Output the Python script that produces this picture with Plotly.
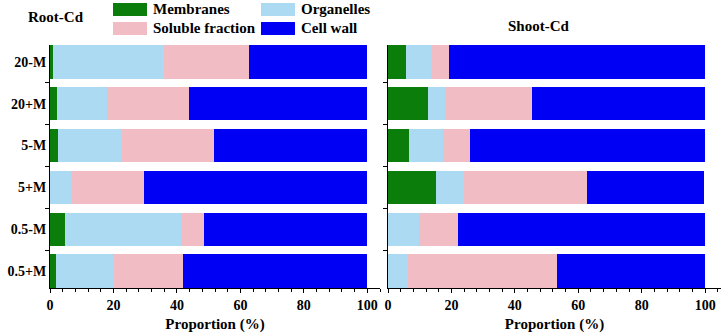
import plotly.graph_objects as go

categories = ["0.5+M", "0.5-M", "5+M", "5-M", "20+M", "20-M"]
series_names = ["Membranes", "Organelles", "Soluble fraction", "Cell wall"]
colors = ["#0a7d0a", "#acdaf2", "#f2bcc4", "#0000f5"]

# Root-Cd (%), order as categories
root_membranes = [1.9, 4.8, 0.0, 2.4, 2.1, 1.1]
root_organelles = [18.1, 36.5, 6.6, 19.9, 16.0, 34.7]
root_soluble = [21.9, 7.1, 23.1, 29.3, 25.6, 27.0]
root_cellwall = [58.1, 51.6, 70.3, 48.4, 56.3, 37.2]

# Shoot-Cd (%)
shoot_membranes = [0.0, 0.0, 15.2, 6.5, 12.7, 5.8]
shoot_organelles = [6.3, 9.7, 8.9, 10.7, 5.4, 7.7]
shoot_soluble = [47.0, 12.4, 38.5, 8.8, 27.2, 5.7]
shoot_cellwall = [46.7, 77.9, 37.1, 74.0, 54.7, 80.8]

root = [root_membranes, root_organelles, root_soluble, root_cellwall]
shoot = [shoot_membranes, shoot_organelles, shoot_soluble, shoot_cellwall]

FONT = "Liberation Serif"
ypos = list(range(len(categories)))

fig = go.Figure()
for name, col, vals in zip(series_names, colors, root):
    fig.add_trace(go.Bar(y=ypos, x=vals, orientation="h", name=name,
                         marker=dict(color=col, line=dict(width=0)), width=0.8,
                         xaxis="x", yaxis="y", showlegend=False))
for name, col, vals in zip(series_names, colors, shoot):
    fig.add_trace(go.Bar(y=ypos, x=vals, orientation="h", name=name,
                         marker=dict(color=col, line=dict(width=0)), width=0.8,
                         xaxis="x2", yaxis="y2", showlegend=False))

W, H = 725, 334
ml, mr, mt, mb = 50, 4, 45, 46
pw = W - ml - mr
ph = H - mt - mb

def px_x(p):
    return (p - ml) / pw

def px_y(p):
    return (H - mb - p) / ph

tickfont = dict(family=FONT, size=14, color="black", weight="bold")
xcommon = dict(showline=True, linecolor="black", linewidth=1, ticks="outside",
               ticklen=4, tickcolor="black", tickmode="array",
               tickvals=[0, 20, 40, 60, 80, 100], tickfont=tickfont,
               minor=dict(ticks="outside", ticklen=3, tickcolor="black",
                          tickmode="linear", tick0=0, dtick=4),
               showgrid=False, zeroline=False, automargin=False,
               title=dict(text="Proportion (%)", font=dict(family=FONT, size=15, color="black", weight="bold"),
                          standoff=6))
ycommon = dict(showline=True, linecolor="black", linewidth=1, range=[-0.4, 5.4],
               tickmode="array", tickvals=ypos, ticks="",
               minor=dict(ticks="outside", ticklen=4, tickcolor="black",
                          tickmode="linear", tick0=0.5, dtick=1),
               showgrid=False, zeroline=False, automargin=False)

fig.update_layout(
    width=W, height=H, margin=dict(l=ml, r=mr, t=mt, b=mb),
    paper_bgcolor="white", plot_bgcolor="white", barmode="stack", bargap=0.2,
    xaxis=dict(domain=[0, px_x(380)], range=[0, 104], anchor="y", **xcommon),
    xaxis2=dict(domain=[px_x(388), 1], range=[0, 105], anchor="y2", **xcommon),
    yaxis=dict(domain=[0, 1], anchor="x", ticktext=categories, tickfont=tickfont, **ycommon),
    yaxis2=dict(domain=[0, 1], anchor="x2", showticklabels=False, **ycommon),
    showlegend=False,
)

annotations = [
    dict(text="Root-Cd", x=px_x(56), y=px_y(17)),
    dict(text="Shoot-Cd", x=px_x(539), y=px_y(26)),
]
for a in annotations:
    a.update(xref="paper", yref="paper", showarrow=False, xanchor="center", yanchor="middle",
             font=dict(family=FONT, size=15, color="black", weight="bold"))

# legend swatches (2x2 grid)
legend_layout = [(113, 3), (261, 3), (113, 22), (261, 22)]
shapes = []
for (bx, by), idx in zip(legend_layout, range(4)):
    shapes.append(dict(type="rect", xref="paper", yref="paper",
                       x0=px_x(bx), x1=px_x(bx + 34), y0=px_y(by), y1=px_y(by + 13),
                       fillcolor=colors[idx], line=dict(width=0)))
    annotations.append(dict(text=series_names[idx], xref="paper", yref="paper",
                            x=px_x(bx + 38), y=px_y(by + 6.5), showarrow=False,
                            xanchor="left", yanchor="middle",
                            font=dict(family=FONT, size=15, color="black", weight="bold")))

fig.update_layout(annotations=annotations, shapes=shapes)
fig.write_html("out.html", config={"displayModeBar": False},
               post_script="document.body.style.margin='0';")
